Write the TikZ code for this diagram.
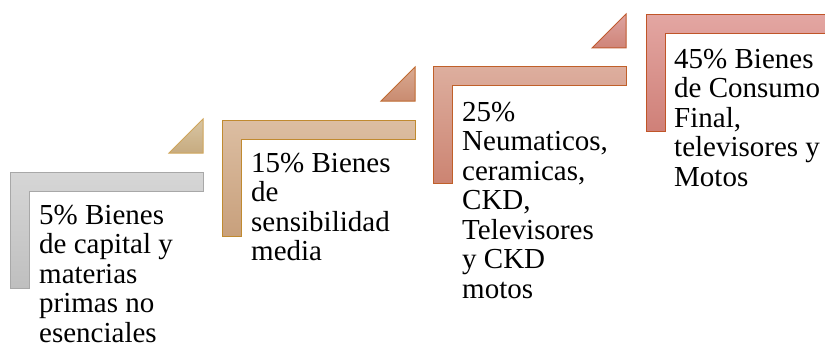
\documentclass[tikz,border=0pt]{standalone}
\usepackage{fontspec}
\setmainfont{Liberation Serif}
\tikzset{
  stepshape/.style={line width=1pt, line join=miter},
  steptext/.style={anchor=base west, align=left, inner sep=0pt, font=\fontsize{29}{29.5}\selectfont, text=black},
}
\definecolor{gA1}{HTML}{D6D6D6}\definecolor{gA2}{HTML}{BFBFBF}\definecolor{bA}{HTML}{A8A8A8}
\definecolor{tA1}{HTML}{D8C5A3}\definecolor{tA2}{HTML}{C7AB80}\definecolor{tbA}{HTML}{CFA55A}
\definecolor{gB1}{HTML}{DCBEA2}\definecolor{gB2}{HTML}{C8A07C}\definecolor{bB}{HTML}{C08A30}
\definecolor{tB1}{HTML}{D9AA92}\definecolor{tB2}{HTML}{C98B70}\definecolor{tbB}{HTML}{C06A30}
\definecolor{gC1}{HTML}{DDAE9E}\definecolor{gC2}{HTML}{CC8472}\definecolor{bC}{HTML}{C0602A}
\definecolor{tC1}{HTML}{DDA3A0}\definecolor{tC2}{HTML}{CF8478}\definecolor{tbC}{HTML}{C05A30}
\definecolor{gD1}{HTML}{E3A6A2}\definecolor{gD2}{HTML}{CF8078}\definecolor{bD}{HTML}{C05528}
% #1 x, #2 y, #3 top colour, #4 bottom colour, #5 border
\newcommand\drawLstep[5]{%
  \path[stepshape, top color=#3, bottom color=#4, draw=#5]
    (#1,#2) -- ++(193,0) -- ++(0,19) -- ++(-174,0) -- ++(0,97) -- ++(-19,0) -- cycle;}
\newcommand\drawTri[5]{%
  \path[stepshape, top color=#3, bottom color=#4, draw=#5]
    (#1+159,#2-19) -- (#1+193,#2-19) -- (#1+193,#2-53) -- cycle;}
\begin{document}
\begin{tikzpicture}[x=1pt,y=-1pt]
\useasboundingbox (0,0) rectangle (825,345);
\clip (0,0) rectangle (825,345);
\drawLstep{10}{172}{gA1}{gA2}{bA}
\drawTri{10}{172}{tA1}{tA2}{tbA}
\drawLstep{222}{120}{gB1}{gB2}{bB}
\drawTri{222}{120}{tB1}{tB2}{tbB}
\drawLstep{433}{67}{gC1}{gC2}{bC}
\drawTri{433}{67}{tC1}{tC2}{tbC}
\drawLstep{646}{15}{gD1}{gD2}{bD}
% base anchor of a multi-line node is the baseline of its last line
\node[steptext] (t1) at (39,342) {5\% Bienes\\de capital y\\materias\\primas no\\esenciales};
\node[steptext] (t2) at (251,260.5) {15\% Bienes\\de\\sensibilidad\\media};
\node[steptext] (t3) at (462,298) {25\%\\Neumaticos,\\ceramicas,\\CKD,\\Televisores\\y CKD\\motos};
\node[steptext] (t4) at (674,186) {45\% Bienes\\de Consumo\\Final,\\televisores y\\Motos};
\end{tikzpicture}
\end{document}
